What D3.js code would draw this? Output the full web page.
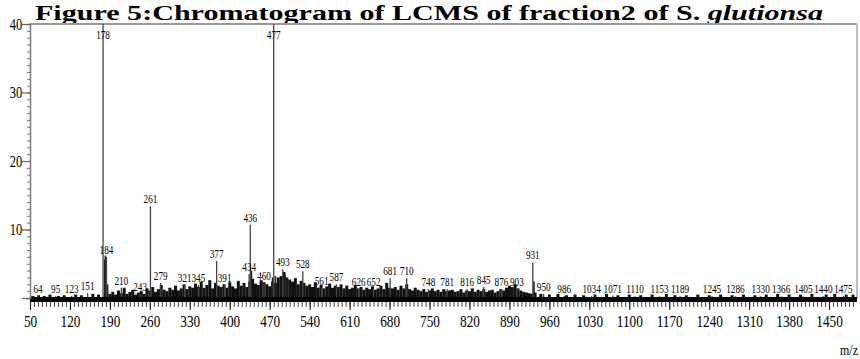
<!DOCTYPE html>
<html><head><meta charset="utf-8">
<script src="https://cdn.jsdelivr.net/npm/d3@7"></script>
<style>html,body{margin:0;padding:0;background:#fff;}svg{display:block;}</style>
</head><body>
<script>
// ---- data ----
const titleMain = "Figure 5:Chromatogram of LCMS of fraction2 of S. ";
const titleItalic = "glutionsa";
const xTickLabels = [50,120,190,260,330,400,470,540,610,680,750,820,890,960,1030,1100,1170,1240,1310,1380,1450];
const yTickLabels = [10,20,30,40];
// labelled peaks (m/z) and intensity (axis units, 0-40; 40 = off scale)
const peakMz  = [64,95,123,151,178,184,210,243,261,279,321,345,377,391,434,436,460,477,493,528,561,587,626,652,681,710,748,781,816,845,876,903,931,950,986,1034,1071,1110,1153,1189,1245,1286,1330,1366,1405,1440,1475];
const peakVal = [0.3,0.3,0.3,0.7,40,6.0,1.5,0.6,13.4,2.2,1.9,1.9,5.4,1.9,3.5,10.7,2.2,40,4.2,3.9,1.5,2.0,1.3,1.3,2.9,2.9,1.3,1.3,1.3,1.6,1.3,1.3,5.2,0.6,0.3,0.25,0.35,0.25,0.25,0.25,0.25,0.25,0.25,0.25,0.25,0.25,0.25];
// unlabelled satellite peaks
const extraMz  = [181,182,186,438,475,480,497,500,933];
const extraVal = [5.6,6.2,2.0,4.0,3.0,3.2,3.4,2.9,2.4];
// background ion noise (estimated)
const noiseMz = [55,65,75,85,100,110,130,140,160,170,
190,195,200,205,210,215,220,225,230,235,
240,245,250,255,260,265,270,275,280,285,
290,295,300,305,310,315,320,325,330,335,
340,345,350,355,360,365,370,375,380,385,
390,395,400,405,410,415,420,425,430,435,
440,445,450,455,460,465,470,475,480,485,
490,495,500,505,510,515,520,525,530,535,
540,545,550,555,560,565,570,575,580,585,
590,595,600,605,610,615,620,625,630,635,
640,645,650,655,660,665,670,675,680,685,
690,695,700,705,710,715,720,725,730,735,
740,745,750,755,760,765,770,775,780,785,
790,795,800,805,810,815,820,825,830,835,
840,845,850,855,860,865,870,875,880,885,
890,895,900,905,910,915,920,925,930,935,
945,960,975,990,1005,1020,1040,1060,1080,1100,1120,1140,1165,1180,1200,1220,1240,1260,1280,1300,1320,1340,1360,1380,1400,1420,1445,1460,1480,1492];
const noiseVal = [0.3,0.4,0.3,0.5,0.3,0.4,0.5,0.4,0.6,0.5,
0.6,0.9,0.5,1.1,0.7,1.5,0.6,0.9,1.2,0.5,
0.8,1.0,0.6,1.4,1.1,1.6,0.9,1.3,1.9,1.2,
1.0,1.5,1.2,1.8,1.1,1.4,2.0,1.3,1.7,1.5,
2.1,1.6,2.4,1.5,1.9,2.6,1.4,2.2,1.8,1.6,
2.0,1.5,2.3,1.7,1.4,2.5,1.8,2.2,1.6,2.4,
2.8,2.1,1.9,2.6,2.3,2.0,1.7,2.4,2.2,3.0,
3.2,3.8,3.0,2.7,2.4,2.9,2.0,2.5,2.2,1.8,
2.0,1.6,2.3,1.5,1.9,1.4,1.7,2.1,1.5,1.8,
1.6,2.0,1.4,1.8,1.3,1.5,1.9,1.4,1.6,1.2,
1.5,1.3,1.7,1.2,1.4,1.8,1.3,2.2,1.5,1.4,
1.6,1.2,1.8,1.4,2.0,1.3,1.1,1.5,1.2,1.0,
1.3,0.9,1.1,1.4,1.0,1.2,0.9,1.3,1.0,1.1,
1.2,0.9,1.0,1.3,0.8,1.1,1.0,1.4,0.9,1.2,
1.0,1.3,0.9,1.1,1.2,0.8,1.0,1.3,1.1,1.5,
1.8,1.6,2.0,1.4,1.1,0.9,0.8,0.7,0.6,0.8,
0.6,0.5,0.6,0.4,0.5,0.4,0.5,0.6,0.4,0.5,0.4,0.5,0.6,0.4,0.4,0.5,0.4,0.5,0.4,0.5,0.4,0.5,0.6,0.5,0.5,0.6,0.5,0.6,0.5,0.5];

// ---- drawing ----
const W = 860, H = 359;
const svg = d3.select("body").append("svg").attr("width", W).attr("height", H);
const x = d3.scaleLinear().domain([50, 1499]).range([30, 857]);
const y = d3.scaleLinear().domain([0, 40]).range([298, 24]).clamp(true);
const serif = "'Liberation Serif','Times New Roman',serif";

// title
const t = svg.append("text").attr("x", 35).attr("y", 20)
  .attr("font-family", serif).attr("font-weight", "bold").attr("font-size", 22).attr("fill", "#000")
  .attr("textLength", 788).attr("lengthAdjust", "spacingAndGlyphs");
t.append("tspan").text(titleMain);
t.append("tspan").attr("font-style", "italic").text(titleItalic);

// frame top & right
svg.append("line").attr("x1", x(50)).attr("x2", x(1499)).attr("y1", y(40)).attr("y2", y(40))
  .attr("stroke", "#999").attr("stroke-width", 2);
svg.append("line").attr("x1", x(1499)).attr("x2", x(1499)).attr("y1", y(40)).attr("y2", y(0))
  .attr("stroke", "#aaa").attr("stroke-width", 1.5);

// noise
svg.append("g").selectAll("line").data(noiseMz).join("line")
  .attr("x1", d => x(d)).attr("x2", d => x(d))
  .attr("y1", y(0)).attr("y2", (d, i) => y(noiseVal[i]))
  .attr("stroke", "#111").attr("stroke-width", 3);

// extra peaks
svg.append("g").selectAll("line").data(extraMz).join("line")
  .attr("x1", d => x(d)).attr("x2", d => x(d))
  .attr("y1", y(0)).attr("y2", (d, i) => y(extraVal[i]))
  .attr("stroke", "#222").attr("stroke-width", 1.6);

// labelled peaks
svg.append("g").selectAll("line").data(peakMz).join("line")
  .attr("x1", d => x(d)).attr("x2", d => x(d))
  .attr("y1", y(0)).attr("y2", (d, i) => y(peakVal[i]))
  .attr("stroke", "#444").attr("stroke-width", 1.3);

svg.append("g").selectAll("text").data(peakMz).join("text")
  .attr("transform", (d, i) => {
    const ty = peakVal[i] >= 40 ? y(40) + 15 : y(peakVal[i]) - 3;
    return `translate(${x(d)},${ty}) scale(0.68,1)`;
  })
  .attr("text-anchor", "middle").attr("font-family", serif).attr("font-size", 13.5)
  .attr("fill", "#000").text(d => d);

// x axis (thick baseline)
svg.append("line").attr("x1", x(50)).attr("x2", x(1499)).attr("y1", y(0) + 1.5).attr("y2", y(0) + 1.5)
  .attr("stroke", "#000").attr("stroke-width", 5);

const minorX = d3.range(50, 1499, 7);
const gxm = svg.append("g").attr("transform", `translate(0,${y(0) + 4})`)
  .call(d3.axisBottom(x).tickValues(minorX).tickSize(5).tickFormat(""));
gxm.select(".domain").remove();
gxm.selectAll("line").attr("stroke", "#333").attr("stroke-width", 0.9);

const gx = svg.append("g").attr("transform", `translate(0,${y(0) + 4})`)
  .call(d3.axisBottom(x).tickValues(xTickLabels).tickSize(8).tickPadding(5).tickFormat(d3.format("d")));
gx.select(".domain").remove();
gx.selectAll("line").attr("stroke", "#222").attr("stroke-width", 1.1);
gx.selectAll("text").attr("font-family", serif).attr("font-size", 17).attr("fill", "#000")
  .attr("transform", "scale(0.78,1)");

// y axis
const gym = svg.append("g").attr("transform", `translate(${x(50)},0)`)
  .call(d3.axisLeft(y).tickValues(d3.range(0, 41, 1)).tickSize(3).tickFormat(""));
gym.select(".domain").attr("stroke", "#777").attr("stroke-width", 1.5);
gym.selectAll("line").attr("stroke", "#777");

const gy = svg.append("g").attr("transform", `translate(${x(50)},0)`)
  .call(d3.axisLeft(y).tickValues([0].concat(yTickLabels)).tickSize(8).tickPadding(2)
    .tickFormat(d => d === 0 ? "" : d));
gy.select(".domain").remove();
gy.selectAll("line").attr("stroke", "#666").attr("stroke-width", 1.2);
gy.selectAll("text").attr("font-family", serif).attr("font-size", 16).attr("fill", "#000")
  .attr("transform", "scale(0.78,1)");

// m/z label
svg.append("text").attr("transform", `translate(858,${H - 4}) scale(0.8,1)`)
  .attr("text-anchor", "end").attr("font-family", serif).attr("font-size", 15).text("m/z");
</script>
</body></html>
